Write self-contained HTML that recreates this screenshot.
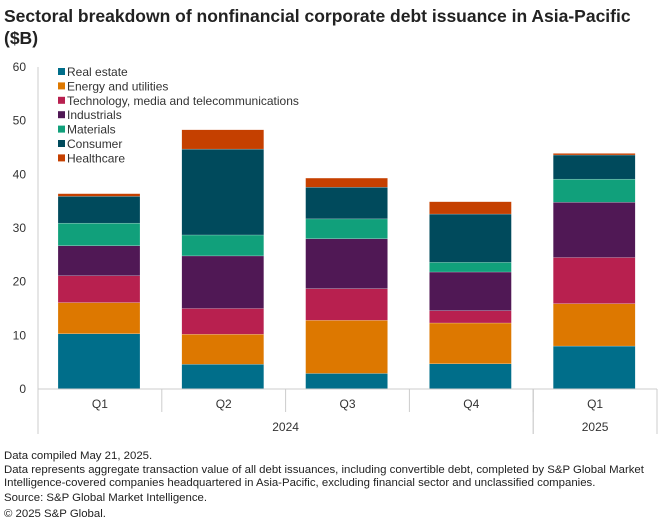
<!DOCTYPE html>
<html><head><meta charset="utf-8"><style>
body{margin:0;background:#fff;font-family:"Liberation Sans",sans-serif;}
#wrap{position:relative;width:660px;height:532px;overflow:hidden;}
.title{position:absolute;left:4px;top:5px;font-size:17.5px;font-weight:bold;color:#222;line-height:22px;width:655px;}
.foot{position:absolute;left:4px;font-size:11.4px;color:#222;line-height:13px;white-space:nowrap;}
</style></head><body>
<div id="wrap">
<div class="title">Sectoral breakdown of nonfinancial corporate debt issuance in Asia-Pacific ($B)</div>
<svg id="chart" width="660" height="450" style="position:absolute;left:0;top:0"></svg>
<div class="foot" style="top:450px">Data compiled May 21, 2025.</div>
<div class="foot" style="top:464px">Data represents aggregate transaction value of all debt issuances, including convertible debt, completed by S&amp;P Global Market</div>
<div class="foot" style="top:477px">Intelligence-covered companies headquartered in Asia-Pacific, excluding financial sector and unclassified companies.</div>
<div class="foot" style="top:492px">Source: S&amp;P Global Market Intelligence.</div>
<div class="foot" style="top:508px">© 2025 S&amp;P Global.</div>
</div>
<script>
const categories=["Q1","Q2","Q3","Q4","Q1"];
const years=["2024","2025"];
const yearSpans=[4,1];
const seriesNames=["Real estate","Energy and utilities","Technology, media and telecommunications","Industrials","Materials","Consumer","Healthcare"];
const realEstate=[10.3,4.6,2.9,4.7,8.0];
const energy=[5.8,5.6,9.9,7.6,7.9];
const tmt=[5.0,4.8,5.9,2.3,8.6];
const industrials=[5.6,9.8,9.3,7.2,10.3];
const materials=[4.2,3.9,3.7,1.8,4.3];
const consumer=[5.0,16.0,5.9,9.0,4.5];
const healthcare=[0.5,3.6,1.7,2.3,0.3];
const yTicks=[0,10,20,30,40,50,60];

const series=[realEstate,energy,tmt,industrials,materials,consumer,healthcare];
const colors=["#006e8a","#dd7800","#b8204f","#501855","#11a07b","#004a5c","#c54000"];
const NS="http://www.w3.org/2000/svg";
const svg=document.getElementById('chart');
const L=38,R=657,Y0=389,Y60=67;
const bw=(R-L)/categories.length;
const y=v=>Y0-(v/60)*(Y0-Y60);
const x=i=>L+i*bw;
function mk(t,a){const e=document.createElementNS(NS,t);for(const k in a)e.setAttribute(k,a[k]);svg.appendChild(e);return e;}
yTicks.forEach(t=>{
  const e=mk('text',{x:26,y:y(t)+4,'text-anchor':'end','font-size':12,fill:'#333'});
  
  
  e.textContent=t;
});
const ax=mk('line',{x1:L,x2:L,y1:Y60,y2:Y0,stroke:'#ccc','stroke-width':1});


categories.forEach((c,i)=>{
  let base=0;
  series.forEach((s,k)=>{
    const r=mk('rect',{x:x(i)+20,y:y(base+s[i]),width:82,height:y(base)-y(base+s[i]),fill:colors[k],stroke:'#fff','stroke-width':0.4,'stroke-opacity':0.5});
    
    
    base+=s[i];
  });
  const t=mk('text',{x:x(i)+bw/2,y:408,'text-anchor':'middle','font-size':12,fill:'#333'});
  
  
  t.textContent=c;
});
const xl=mk('line',{x1:L,x2:R,y1:Y0,y2:Y0,stroke:'#ccc','stroke-width':1});


for(let i=0;i<=categories.length;i++){
  const sp=mk('line',{x1:x(i),x2:x(i),y1:Y0,y2:412,stroke:'#ccc','stroke-width':1});
  
  
}
let gi=0;
years.forEach((yr,j)=>{
  const a=x(gi),b=x(gi+yearSpans[j]);
  [a,b].forEach(px=>{
    const g=mk('line',{x1:px,x2:px,y1:Y0,y2:434,stroke:'#ccc','stroke-width':1});
    
    
  });
  const t=mk('text',{x:(a+b)/2,y:431,'text-anchor':'middle','font-size':12,fill:'#333'});
  
  
  t.textContent=yr;
  gi+=yearSpans[j];
});
seriesNames.forEach((n,k)=>{
  const cy=72+k*14.4;
  const r=mk('rect',{x:58,y:cy-4,width:7,height:7,fill:colors[k]});
  
  
  const t=mk('text',{x:67,y:cy+4,'font-size':12,fill:'#333'});
  
  
  t.textContent=n;
});
</script>
</body></html>
